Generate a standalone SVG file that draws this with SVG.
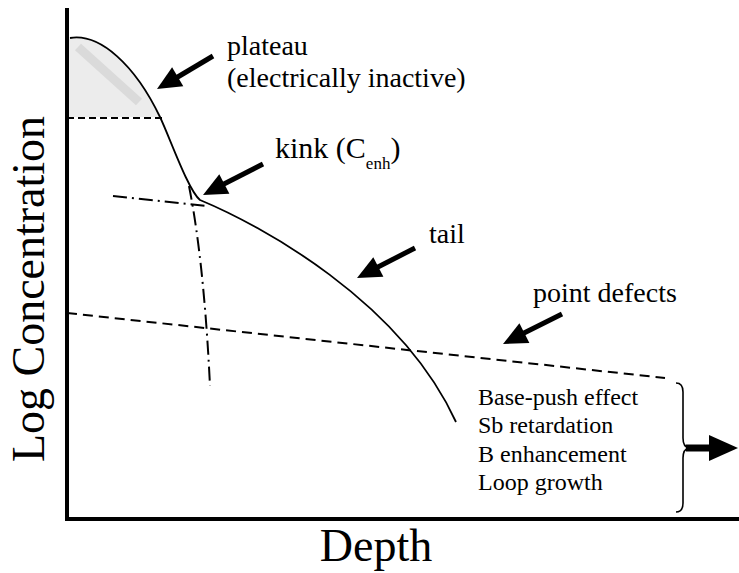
<svg xmlns="http://www.w3.org/2000/svg" width="739" height="573" viewBox="0 0 739 573" font-family="'Liberation Serif', 'Times New Roman', serif">
<style>
text{font-family:'Liberation Serif','Times New Roman',serif;fill:#000}
.lbl{font-size:28px}
.list{font-size:24px}
.axis{stroke:#000;stroke-width:4;fill:none}
.curve{stroke:#000;stroke-width:1.8;fill:none}
.dash{stroke:#000;stroke-width:2;fill:none;stroke-dasharray:7 4}
.dashdot{stroke:#000;stroke-width:2;fill:none;stroke-dasharray:14 5 2 5}
.ashaft{stroke:#000;stroke-width:5;fill:none}
.ahead{fill:#000}
</style>
<rect width="739" height="573" fill="#fff"/>
<g id="plateau-region">
<path d="M67,40 L70,38 C100,33 135,65 160,117 L67,117 Z" fill="#ececec"/>
<line x1="78" y1="47" x2="139" y2="102" stroke="#dadada" stroke-width="9"/>
</g>
<g id="axes">
<line class="axis" x1="67" y1="8" x2="67" y2="521"/>
<line class="axis" x1="65" y1="519" x2="739" y2="519"/>
<text x="0" y="0" font-family="'Liberation Serif', serif" font-size="46" text-anchor="middle" transform="translate(44,289) rotate(-90)">Log Concentration</text>
<text x="376" y="561" font-family="'Liberation Serif', serif" font-size="46" text-anchor="middle">Depth</text>
</g>
<g id="connectors">
<path id="profile" class="curve" d="M70,38 C100,33 135,65 160,117 C170,138 188,190 200,200 C260,225 400,300 456,422"/>
<line id="plateau-level" class="dash" x1="67" y1="118" x2="163" y2="118"/>
<line id="kink-horizontal" class="dashdot" x1="113" y1="196" x2="206" y2="206"/>
<path id="kink-vertical" class="dashdot" d="M189,186 Q204,262 210,386"/>
<line id="point-defects-line" class="dash" style="stroke-dasharray:10 6" x1="67" y1="313" x2="665" y2="378"/>
<path id="brace" d="M676,383 Q683,383 683,392 L683,438 Q683,447 689,448 Q683,449 683,458 L683,503 Q683,512 676,512" stroke="#000" stroke-width="1.6" fill="none"/>
</g>
<g id="arrow-plateau">
<line class="ashaft" x1="213" y1="56" x2="176" y2="78"/>
<polygon class="ahead" points="157,89 183.3,86.3 172.1,67.3"/>
</g>
<g id="arrow-kink">
<line class="ashaft" x1="263" y1="164" x2="222" y2="185"/>
<polygon class="ahead" points="203,195 229.4,193.8 219.3,174.2"/>
</g>
<g id="arrow-tail">
<line class="ashaft" x1="415" y1="248" x2="376" y2="268"/>
<polygon class="ahead" points="357,278 383.4,276.7 373.3,257.2"/>
</g>
<g id="arrow-point-defects">
<line class="ashaft" x1="562" y1="314" x2="522" y2="334"/>
<polygon class="ahead" points="503,344 529.4,342.9 519.4,323.3"/>
</g>
<g id="arrow-right">
<line stroke="#000" stroke-width="7" x1="686" y1="448" x2="713" y2="448"/>
<polygon class="ahead" points="738,448 709,435 709,461"/>
</g>
<g id="label-plateau">
<text class="lbl" font-family="'Liberation Serif', serif" x="227" y="55">plateau</text>
<text class="lbl" font-family="'Liberation Serif', serif" x="227" y="87">(electrically inactive)</text>
</g>
<g id="label-kink">
<text font-size="30" font-family="'Liberation Serif', serif" x="275" y="158">kink (C<tspan font-size="17" dy="11">enh</tspan><tspan dy="-11">)</tspan></text>
</g>
<g id="label-tail">
<text class="lbl" font-family="'Liberation Serif', serif" x="429" y="243">tail</text>
</g>
<g id="label-point-defects">
<text class="lbl" font-family="'Liberation Serif', serif" x="533" y="302">point defects</text>
</g>
<g id="effects-list">
<text class="list" font-family="'Liberation Serif', serif" x="478" y="405">Base-push effect</text>
<text class="list" font-family="'Liberation Serif', serif" x="478" y="433">Sb retardation</text>
<text class="list" font-family="'Liberation Serif', serif" x="478" y="462">B enhancement</text>
<text class="list" font-family="'Liberation Serif', serif" x="478" y="490">Loop growth</text>
</g>
</svg>
